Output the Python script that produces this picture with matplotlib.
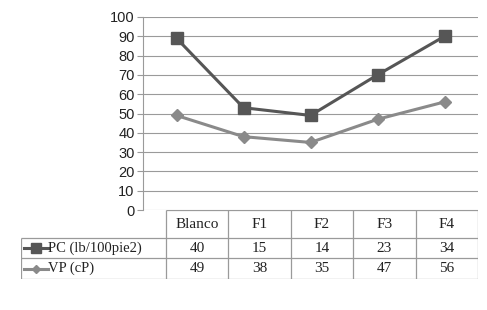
#!/usr/bin/env python3

import matplotlib
matplotlib.use("Agg")
import matplotlib.pyplot as plt
from matplotlib.lines import Line2D

# ----------------------------------------------------------
# data
# ----------------------------------------------------------
categories = ["Blanco", "F1", "F2", "F3", "F4"]
pc_plot = [89, 53, 49, 70, 90]      # plotted PC points
vp_plot = [49, 38, 35, 47, 56]      # plotted VP points
pc_table = [40, 15, 14, 23, 34]     # values written in the table
vp_table = [49, 38, 35, 47, 56]
series_labels = ["PC (lb/100pie2)", "VP (cP)"]
yticks = list(range(0, 101, 10))

PC_COLOR = "#565656"
VP_COLOR = "#8a8a8a"
GRID = "#9a9a9a"
W, H = 487, 310

fig = plt.figure(figsize=(W / 100, H / 100), dpi=100)
fig.patch.set_facecolor("white")

# ----------------------------------------------------------
# line chart
# ----------------------------------------------------------
ax = fig.add_axes([143 / W, (H - 210) / H, (478 - 143) / W, (210 - 17) / H])
x = list(range(len(categories)))

ax.plot(x, pc_plot, color=PC_COLOR, lw=2.2, marker="s", ms=8.5, zorder=3)
ax.plot(x, vp_plot, color=VP_COLOR, lw=2.2, marker="D", ms=6.5, zorder=3)

ax.set_xlim(-0.5, len(categories) - 0.5)
ax.set_ylim(0, 100)
ax.set_yticks(yticks)
ax.set_yticklabels([str(t) for t in yticks], family="Liberation Sans",
                   fontsize=10.5, color="#222222")
ax.yaxis.grid(True, color=GRID, lw=0.8)
ax.set_axisbelow(True)
ax.set_xticks([])
for s in ["top", "right", "bottom"]:
    ax.spines[s].set_visible(False)
ax.spines["left"].set_color(GRID)
ax.tick_params(axis="y", length=4, color=GRID, pad=2)

# ----------------------------------------------------------
# data table
# ----------------------------------------------------------
left_units = 0.5 + (143 - 21) / 67.0
tb = fig.add_axes([21 / W, (H - 279) / H, (478 - 21) / W, (279 - 210) / H])
tb.set_xlim(-0.5 - left_units, len(categories) - 0.5)
tb.set_ylim(69, 0)
tb.axis("off")

rows = [0, 28, 48, 69]
lk = dict(color=GRID, lw=0.9, solid_capstyle="butt")
xl = -0.5 - left_units
xr = len(categories) - 0.5

# horizontal lines
tb.plot([-0.5, xr], [rows[0], rows[0]], **lk)
for r in rows[1:]:
    tb.plot([xl, xr], [r, r], **lk)
# vertical lines
for b in range(len(categories) + 1):
    tb.plot([b - 0.5, b - 0.5], [rows[0], rows[-1]], **lk)
tb.plot([xl, xl], [rows[1], rows[-1]], **lk)

tfont = dict(family="Liberation Serif", fontsize=11, color="#222222",
             ha="center", va="center")
for i, c in enumerate(categories):
    tb.text(i, (rows[0] + rows[1]) / 2, c, **tfont)
for i, (p, v) in enumerate(zip(pc_table, vp_table)):
    tb.text(i, (rows[1] + rows[2]) / 2, str(p), **tfont)
    tb.text(i, (rows[2] + rows[3]) / 2, str(v), **tfont)

# legend keys + labels
for k, (lab, col, mk, ms) in enumerate(zip(series_labels, [PC_COLOR, VP_COLOR],
                                            ["s", "D"], [6.5, 4.5])):
    yc = (rows[k + 1] + rows[k + 2]) / 2
    kx0 = xl + 3 / 67.0
    kx1 = xl + 29 / 67.0
    tb.add_line(Line2D([kx0, kx1], [yc, yc], color=col, lw=2.2))
    tb.plot([(kx0 + kx1) / 2], [yc], marker=mk, ms=ms, color=col)
    tb.text(kx1, yc, lab, family="Liberation Serif", fontsize=10.5,
            color="#222222", ha="left", va="center")

fig.savefig("out.png", dpi=100)
